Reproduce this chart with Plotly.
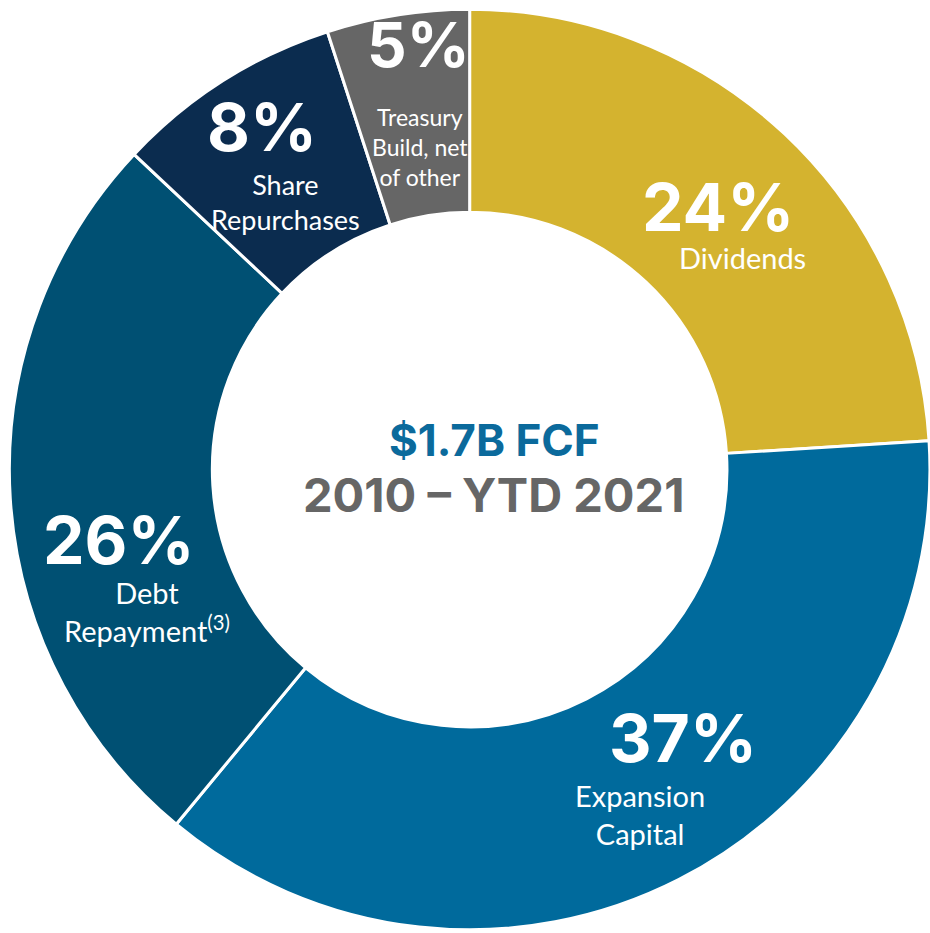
import plotly.graph_objects as go

# share of free cash flow use, 2010 - YTD 2021
labels = ['Dividends', 'Expansion Capital', 'Debt Repayment', 'Share Repurchases', 'Treasury Build, net of other']
values = [24, 37, 26, 8, 5]
colors = ['#D4B32F', '#006A9C', '#005073', '#0B2C4F', '#666666']
captions = ['Dividends', 'Expansion<br>Capital', 'Debt<br>Repayment<sup>(3)</sup>',
            'Share<br>Repurchases', 'Treasury<br>Build, net<br>of other']

# label anchor points (paper coords) and caption sizes
pct_pos = [(0.772, 0.778), (0.734, 0.209), (0.127, 0.421), (0.282, 0.864), (0.450, 0.9525)]
cap_pos = [(0.798, 0.7235), (0.688, 0.127), (0.158, 0.345), (0.3075, 0.784), (0.4516, 0.8424)]
cap_size = [29, 29, 29, 27, 23]
pct_size = [66, 66, 66, 66, 62]

fig = go.Figure(
    go.Pie(
        labels=labels,
        values=values,
        hole=0.559,
        sort=False,
        direction='clockwise',
        rotation=0,
        textinfo='none',
        hoverinfo='label+percent',
        marker=dict(colors=colors, line=dict(color='white', width=3)),
        domain=dict(x=[0.01, 1.0], y=[0.0034, 0.9901]),
        showlegend=False,
    )
)

annotations = []
for v, c, (px, py), (cx, cy), s, ps in zip(values, captions, pct_pos, cap_pos, cap_size, pct_size):
    annotations.append(dict(
        x=px, y=py, xref='paper', yref='paper', showarrow=False,
        xanchor='center', yanchor='middle',
        text=f'{v}%', font=dict(family='Inter', size=ps, color='white', weight=700),
    ))
    annotations.append(dict(
        x=cx, y=cy, xref='paper', yref='paper', showarrow=False,
        xanchor='center', yanchor='middle',
        text=c, font=dict(family='Lato', size=s, color='white'),
    ))

# centre text
annotations.append(dict(
    x=0.532, y=0.5284, xref='paper', yref='paper', showarrow=False,
    xanchor='center', yanchor='middle',
    text='$1.7B FCF', font=dict(family='Inter', size=44, color='#0B6A9C', weight=700),
))
annotations.append(dict(
    x=0.531, y=0.470, xref='paper', yref='paper', showarrow=False,
    xanchor='center', yanchor='middle',
    text='2010 \u2013 YTD 2021', font=dict(family='Inter', size=47, color='#666666', weight=700),
))

fig.update_layout(
    width=930, height=933,
    margin=dict(l=0, r=0, t=0, b=0),
    paper_bgcolor='white',
    plot_bgcolor='white',
    annotations=annotations,
)

fig.write_html("out.html", config={'displayModeBar': False},
               post_script="document.body.style.margin = '0px';")
